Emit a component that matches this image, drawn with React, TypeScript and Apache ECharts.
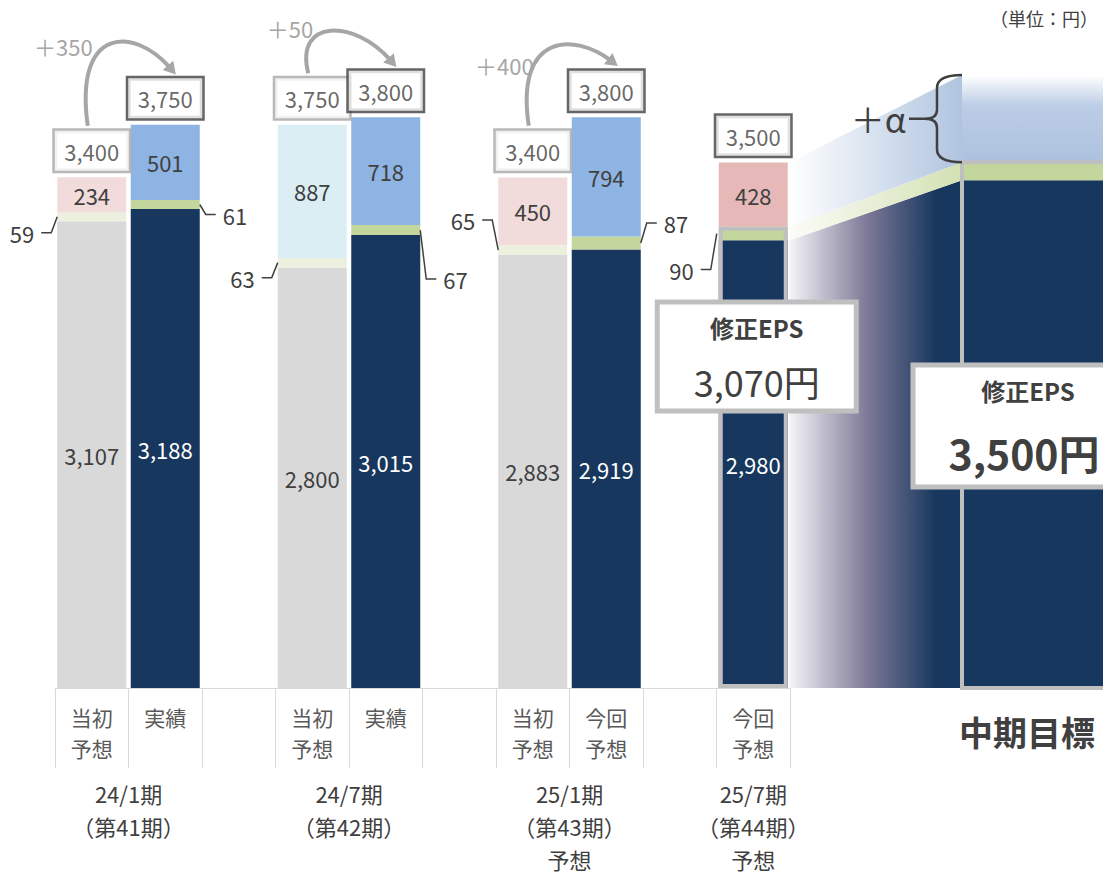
import React, { useEffect, useRef } from "react";
import * as echarts from "echarts";

// ---------- data ----------
const categories = ["当初\n予想", "実績", "", "当初\n予想", "実績", "", "当初\n予想", "今回\n予想", "", "今回\n予想"];
const kinds = ["forecast", "actual", "", "forecast", "actual", "", "forecast", "current", "", "current"];
const baseValues = [3107, 3188, null, 2800, 3015, null, 2883, 2919, null, 2980];
const midValues = [59, 61, null, 63, 67, null, 65, 87, null, 90];
const topValues = [234, 501, null, 887, 718, null, 450, 794, null, 428];
const totals = [3400, 3750, null, 3750, 3800, null, 3400, 3800, null, 3500];
const periodLabels = ["24/1期\n（第41期）", "24/7期\n（第42期）", "25/1期\n（第43期）\n予想", "25/7期\n（第44期）\n予想"];
const periodSlots = [[0, 1], [3, 4], [6, 7], [9, 9]];
const changeLabels = ["＋350", "＋50", "＋400"];
const changePairs = [[0, 1], [3, 4], [6, 7]];
const epsIndex = 9;
const targetName = "中期目標";
const targetBase = 3380;
const targetMid = 120;
const targetAlpha = 580;
const unitText = "（単位：円）";
const epsTitle = "修正EPS";
const alphaText = "＋α";

// ---------- style ----------
const FONT = '"Noto Sans CJK JP", "Noto Sans", sans-serif';
const NAVY = "#17375e";
const GRAY = "#d9d9d9";
const TXT = "#404040";
const topColors = ["#f2dcdb", "#8eb4e3", null, "#dbeef4", "#8eb4e3", null, "#f2dcdb", "#8eb4e3", null, "#e6b9b8"];
const leaderSide = [-1, 1, 0, -1, 1, 0, -1, 1, 0, -1];
const leaderDy = [16, 10, 0, 15, 49, 0, -30, -20, 0, 36];
const arrowLift = [43, 43, 29];
const changeTextDy = [-80, -45, -61];
const BAR_W = 69;
const G2_LEFT = 962;

const fmt = (v: number) => v.toLocaleString("en-US");
const isF = (i: number) => kinds[i] === "forecast";

function buildOption(): any {
  const baseData = baseValues.map((v, i) =>
    v == null ? null : {
      value: v,
      itemStyle: { color: isF(i) ? GRAY : NAVY },
      label: { color: isF(i) ? TXT : "#ffffff" },
    });
  const midData = midValues.map((v, i) =>
    v == null ? null : { value: v, itemStyle: { color: isF(i) ? "#ebf1de" : "#c3d69b" } });
  const topData = topValues.map((v, i) =>
    v == null ? null : { value: v, itemStyle: { color: topColors[i] } });
  const totalData = totals.map((v, i) =>
    v == null ? null : { value: v, label: { borderColor: isF(i) ? "#a6a6a6" : TXT } });
  const outlineData = baseValues.map((v, i) => (i === epsIndex ? (v as number) + (midValues[i] as number) : null));

  return {
    animation: false,
    backgroundColor: "#ffffff",
    grid: [
      { left: 55, width: 735, top: 12, bottom: 188 },
      { left: G2_LEFT, right: 0, top: 12, bottom: 188 },
    ],
    xAxis: [
      {
        type: "category", gridIndex: 0, data: categories,
        axisLine: { show: true, lineStyle: { color: "#d9d9d9", width: 1 } },
        axisTick: { show: true, interval: 0, length: 80, lineStyle: { color: "#d9d9d9", width: 1 } },
        axisLabel: { interval: 0, fontSize: 21, color: "#595959", lineHeight: 31, margin: 13, fontFamily: FONT },
      },
      { type: "category", gridIndex: 1, data: [targetName], show: false },
    ],
    yAxis: [
      { type: "value", gridIndex: 0, min: 0, max: 4500, show: false },
      { type: "value", gridIndex: 1, min: 0, max: 4500, show: false },
    ],
    series: [
      {
        type: "bar", name: "base", stack: "a", barWidth: BAR_W, barGap: "-100%", data: baseData,
        label: { show: true, position: "inside", fontSize: 22, fontFamily: FONT, formatter: (p: any) => fmt(p.value) },
      },
      { type: "bar", name: "mid", stack: "a", barWidth: BAR_W, barGap: "-100%", data: midData },
      {
        type: "bar", name: "top", stack: "a", barWidth: BAR_W, barGap: "-100%", data: topData,
        label: { show: true, position: "inside", fontSize: 22, color: TXT, fontFamily: FONT, formatter: (p: any) => fmt(p.value) },
      },
      {
        type: "bar", name: "outline", barWidth: BAR_W, barGap: "-100%", data: outlineData, silent: true, z: 3,
        itemStyle: { color: "rgba(0,0,0,0)", borderColor: "#bfbfbf", borderWidth: 4 },
      },
      {
        type: "scatter", name: "total", data: totalData, symbolSize: 1, itemStyle: { color: "rgba(0,0,0,0)" }, z: 5,
        label: {
          show: true, position: "top", distance: 6, formatter: (p: any) => fmt(p.value),
          fontSize: 22, color: TXT, fontFamily: FONT, backgroundColor: "#ffffff",
          borderWidth: 2.5, padding: [6, 9, 6, 9], width: 56, lineHeight: 28, align: "center",
        },
      },
      {
        type: "bar", name: "targetBase", xAxisIndex: 1, yAxisIndex: 1, stack: "b", barWidth: "100%",
        data: [targetBase], itemStyle: { color: NAVY },
      },
      {
        type: "bar", name: "targetMid", xAxisIndex: 1, yAxisIndex: 1, stack: "b", barWidth: "100%",
        data: [targetMid], itemStyle: { color: "#c3d69b" },
      },
      {
        type: "bar", name: "targetAlpha", xAxisIndex: 1, yAxisIndex: 1, stack: "b", barWidth: "100%",
        data: [targetAlpha],
        itemStyle: {
          color: new echarts.graphic.LinearGradient(0, 0, 0, 1, [
            { offset: 0, color: "#ffffff" },
            { offset: 0.35, color: "#bccde6" },
            { offset: 1, color: "#adc1de" },
          ]),
        },
      },
    ],
  };
}

function buildGraphic(chart: any): any[] {
  const p = (i: number, v: number) => chart.convertToPixel({ gridIndex: 0 }, [i, v]) as number[];
  const els: any[] = [];
  const txt = (x: number, y: number, text: string, o: any = {}) => ({
    type: "text", x, y, z: o.z ?? 10,
    style: {
      text, fontFamily: FONT, fontSize: o.fontSize ?? 22, fontWeight: o.fontWeight ?? "normal",
      fill: o.fill ?? TXT, align: o.align ?? "center", verticalAlign: o.verticalAlign ?? "middle",
      lineHeight: o.lineHeight,
    },
  });

  const L = p(epsIndex, 0)[0] + BAR_W / 2 + 2;
  const R = G2_LEFT;
  const b9 = baseValues[epsIndex] as number;
  const m9 = midValues[epsIndex] as number;
  const t9 = totals[epsIndex] as number;
  const y = (v: number) => p(0, v)[1];
  const eps8 = targetBase + targetMid;

  // outline of target bar (EPS part), extending beyond the right edge
  els.push({
    type: "rect", z: 3,
    shape: { x: R, y: y(eps8), width: 200, height: y(0) - y(eps8) },
    style: { fill: "rgba(0,0,0,0)", stroke: "#bfbfbf", lineWidth: 4 },
  });

  // transition fan between 25/7 bar and target bar
  els.push({
    type: "polygon", z: 1,
    shape: { points: [[L, y(b9)], [R, y(targetBase)], [R, y(0)], [L, y(0)]] },
    style: {
      fill: new echarts.graphic.LinearGradient(0, 0, 1, 0, [
        { offset: 0, color: "#f4f3f6" },
        { offset: 0.45, color: "#7d7997" },
        { offset: 0.85, color: NAVY },
        { offset: 1, color: NAVY },
      ]),
    },
  });
  els.push({
    type: "polygon", z: 1,
    shape: { points: [[L, y(b9 + m9)], [R, y(eps8)], [R, y(targetBase)], [L, y(b9)]] },
    style: {
      fill: new echarts.graphic.LinearGradient(0, 0, 1, 0, [
        { offset: 0, color: "#fbfcf7" },
        { offset: 1, color: "#d3e1b3" },
      ]),
    },
  });
  els.push({
    type: "polygon", z: 1,
    shape: { points: [[L, y(t9)], [R, y(eps8 + targetAlpha)], [R, y(eps8)], [L, y(b9 + m9)]] },
    style: {
      fill: new echarts.graphic.LinearGradient(0, 0, 1, 0, [
        { offset: 0, color: "#ffffff" },
        { offset: 1, color: "#b0c4df" },
      ]),
    },
  });

  // leader lines for small middle values
  midValues.forEach((v, i) => {
    if (v == null) return;
    const s = leaderSide[i];
    const base = baseValues[i] as number;
    const [cx, ym] = p(i, base + v / 2);
    const edge = cx + s * (BAR_W / 2 + (i === epsIndex ? 2 : 0));
    const yl = ym + leaderDy[i];
    els.push({
      type: "polyline", z: 10,
      shape: { points: [[edge, ym], [edge + s * 6, yl], [edge + s * 16, yl]] },
      style: { stroke: TXT, lineWidth: 1.5, fill: null },
    });
    els.push(txt(edge + s * 23, yl, String(v), { align: s < 0 ? "right" : "left" }));
  });

  // change arrows
  changeLabels.forEach((label, k) => {
    const [i, j] = changePairs[k];
    const bi = p(i, totals[i] as number);
    const bj = p(j, totals[j] as number);
    const topI = bi[1] - 0.5 - 6 - 40;
    const topJ = bj[1] - 0.5 - 6 - 40;
    const S = [bi[0] - 4, topI - 5];
    const E = [bj[0] + 6, topJ - 9];
    const c = E[1] - arrowLift[k];
    const cp1 = [S[0] - 14, c];
    const cp2 = [S[0] + (E[0] - S[0]) * 0.55, c];
    let dx = E[0] - cp2[0], dy = E[1] - cp2[1];
    const len = Math.hypot(dx, dy); dx /= len; dy /= len;
    const tip = [E[0] + dx * 7, E[1] + dy * 7];
    const bA = [E[0] - dx * 5 - dy * 7, E[1] - dy * 5 + dx * 7];
    const bB = [E[0] - dx * 5 + dy * 7, E[1] - dy * 5 - dx * 7];
    els.push({
      type: "bezierCurve", z: 10,
      shape: { x1: S[0], y1: S[1], x2: E[0] - dx * 2, y2: E[1] - dy * 2, cpx1: cp1[0], cpy1: cp1[1], cpx2: cp2[0], cpy2: cp2[1] },
      style: { stroke: "#a6a6a6", lineWidth: 4, fill: null },
    });
    els.push({ type: "polygon", z: 10, shape: { points: [tip, bA, bB] }, style: { fill: "#a6a6a6" } });
    els.push(txt(S[0] + 5, S[1] + changeTextDy[k], label, { align: "right", fill: "#a6a6a6" }));
  });

  // period labels
  periodLabels.forEach((label, k) => {
    const [a, b] = periodSlots[k];
    const x = (p(a, 0)[0] + p(b, 0)[0]) / 2;
    els.push(txt(x, 776, label, { verticalAlign: "top", lineHeight: 33 }));
  });

  // unit
  els.push(txt(1098, 18, unitText, { align: "right", fontSize: 18 }));

  // brace for +alpha
  const yT = y(eps8 + targetAlpha);
  const yB = y(eps8);
  const mid = (yT + yB) / 2;
  const bx = R - 25;
  const tipX = R - 37;
  const d = `M${R} ${yT} Q${bx} ${yT} ${bx} ${yT + 13} L${bx} ${mid - 9} Q${bx} ${mid} ${tipX} ${mid} ` +
    `Q${bx} ${mid} ${bx} ${mid + 9} L${bx} ${yB - 13} Q${bx} ${yB} ${R} ${yB} M${tipX} ${mid} L${R - 53} ${mid}`;
  echarts.graphic.registerShape("brace", echarts.graphic.extendPath(d, {}));
  els.push({ type: "brace", z: 10, style: { stroke: TXT, lineWidth: 2.5, fill: "none" } });
  els.push(txt(R - 56, mid, alphaText, { align: "right", fontSize: 34 }));

  // EPS boxes
  const cx9 = p(epsIndex, 0)[0];
  const epsNow = b9 + m9;
  els.push({
    type: "rect", z: 100, shape: { x: cx9 - 96, y: 302, width: 199, height: 109 },
    style: { fill: "#ffffff", stroke: "#bfbfbf", lineWidth: 5 },
  });
  els.push(txt(cx9 + 3.5, 327, epsTitle, { fontSize: 24, fontWeight: "bold", z: 101 }));
  els.push(txt(cx9 + 3.5, 381, fmt(epsNow) + "円", { fontSize: 36, z: 101 }));

  els.push({
    type: "rect", z: 100, shape: { x: R - 49, y: 365, width: 260, height: 122 },
    style: { fill: "#ffffff", stroke: "#bfbfbf", lineWidth: 5 },
  });
  els.push(txt(R + 66, 390, epsTitle, { fontSize: 24, fontWeight: "bold", z: 101 }));
  els.push(txt(R + 62, 452, fmt(eps8) + "円", { fontSize: 41, fontWeight: "bold", z: 101 }));

  // target name
  els.push(txt(R - 3, 731, targetName, { align: "left", fontSize: 34, fontWeight: "bold" }));

  return els;
}

export default function App() {
  const ref = useRef<HTMLDivElement>(null);
  useEffect(() => {
    const chart = echarts.init(ref.current as HTMLDivElement, null, { renderer: "svg" });
    chart.setOption(buildOption());
    chart.setOption({ graphic: { elements: buildGraphic(chart) } });
    return () => chart.dispose();
  }, []);
  return (
    <div
      ref={ref}
      style={{ position: "fixed", left: 0, top: 0, width: 1103, height: 876, background: "#ffffff" }}
    />
  );
}
